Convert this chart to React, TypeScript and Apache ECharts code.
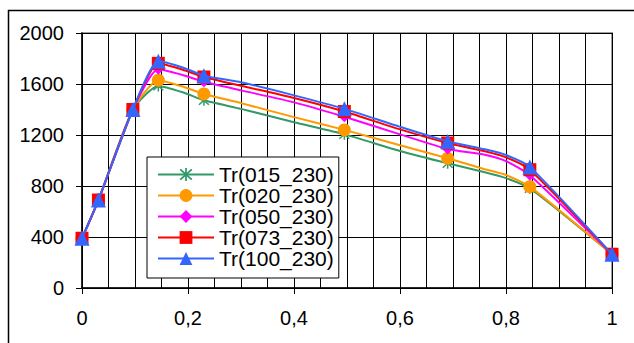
import React, { useEffect, useRef } from "react";
import * as echarts from "echarts";

// Positions along the x axis where each curve is sampled
const xValues = [0, 0.031, 0.096, 0.144, 0.19, 0.23, 0.3, 0.4, 0.495, 0.6, 0.69, 0.76, 0.8, 0.845, 1.0];
// Samples that carry a marker
const markerIdx = [0, 1, 2, 3, 5, 8, 10, 13, 14];

const seriesNames = ["Tr(015_230)", "Tr(020_230)", "Tr(050_230)", "Tr(073_230)", "Tr(100_230)"];

const tr015 = [390, 690, 1400, 1585, 1535, 1472, 1405, 1300, 1205, 1075, 978, 908, 862, 782, 265];
const tr020 = [390, 690, 1400, 1630, 1580, 1522, 1450, 1340, 1240, 1120, 1017, 932, 886, 795, 265];
const tr050 = [390, 690, 1400, 1715, 1670, 1617, 1550, 1456, 1343, 1205, 1090, 1045, 995, 885, 265];
const tr073 = [390, 690, 1400, 1762, 1712, 1655, 1586, 1490, 1384, 1244, 1137, 1072, 1025, 928, 265];
const tr100 = [390, 690, 1400, 1778, 1730, 1665, 1613, 1511, 1405, 1264, 1150, 1088, 1043, 950, 265];

const yTicks = { min: 0, max: 2000, step: 400 };
const xTicks = { min: 0, max: 1, step: 0.2, minorSplit: 4 };

const seriesValues = [tr015, tr020, tr050, tr073, tr100];
const colors = ["#339966", "#FF9900", "#FF00FF", "#FF0000", "#3366FF"];

const asterisk =
  "path://M44 0H56V100H44Z" +
  "M5.76 14.24L14.24 5.76L94.24 85.76L85.76 94.24Z" +
  "M85.76 5.76L94.24 14.24L14.24 94.24L5.76 85.76Z";
const symbols = [asterisk, "circle", "diamond", "rect", "triangle"];
const symbolSizes = [11, 13, 11, 13, 15];

const FONT = "'Liberation Sans', Arial, sans-serif";

export default function App() {
  const ref = useRef<HTMLDivElement | null>(null);

  useEffect(() => {
    if (!ref.current) return;
    const chart = echarts.init(ref.current, undefined, { renderer: "svg" });

    const series = seriesValues.map((vals, s) => ({
      name: seriesNames[s],
      type: "line",
      smooth: 0.2,
      symbol: symbols[s],
      symbolSize: symbolSizes[s],
      showSymbol: true,
      showAllSymbol: true,
      z: 3 + s,
      lineStyle: { color: colors[s], width: 2 },
      itemStyle: { color: colors[s], borderWidth: 0 },
      data: vals.map((v, i) =>
        markerIdx.includes(i)
          ? { value: [xValues[i], v] }
          : { value: [xValues[i], v], symbol: "none" }
      ),
    }));

    chart.setOption({
      animation: false,
      textStyle: { fontFamily: FONT },
      grid: {
        left: 82,
        top: 33,
        right: 22,
        bottom: 55,
        show: true,
        borderColor: "#a0a0a0",
        borderWidth: 2,
        backgroundColor: "#ffffff",
      },
      graphic: [
        {
          type: "rect",
          shape: { x: 8.5, y: 10.5, width: 700, height: 400 },
          style: { fill: "none", stroke: "#000000", lineWidth: 1.5 },
          silent: true,
          z: 0,
        },
      ],
      legend: {
        orient: "vertical",
        left: 147,
        top: 157,
        backgroundColor: "#ffffff",
        borderColor: "#000000",
        borderWidth: 1,
        padding: [7, 5, 9, 10],
        itemWidth: 56,
        itemHeight: 16,
        itemGap: 0,
        selectedMode: false,
        textStyle: {
          fontFamily: FONT,
          fontSize: 21,
          lineHeight: 21,
          color: "#000000",
        },
        data: seriesNames,
      },
      xAxis: {
        type: "value",
        min: xTicks.min,
        max: xTicks.max,
        interval: xTicks.step,
        axisLine: { show: true, onZero: false, lineStyle: { color: "#000000", width: 1.5 } },
        axisTick: { show: true, length: 6, lineStyle: { color: "#000000" } },
        axisLabel: {
          margin: 20,
          fontSize: 20,
          color: "#000000",
          fontFamily: FONT,
          formatter: (v: number) => String(Number(v.toFixed(1))).replace(".", ","),
        },
        splitLine: { show: true, lineStyle: { color: "#000000", width: 1 } },
        minorTick: { show: false, splitNumber: xTicks.minorSplit },
        minorSplitLine: { show: true, lineStyle: { color: "#000000", width: 1 } },
      },
      yAxis: {
        type: "value",
        min: yTicks.min,
        max: yTicks.max,
        interval: yTicks.step,
        axisLine: { show: true, lineStyle: { color: "#000000", width: 1.5 } },
        axisTick: { show: true, length: 6, lineStyle: { color: "#000000" } },
        axisLabel: {
          margin: 18,
          fontSize: 20,
          color: "#000000",
          fontFamily: FONT,
          formatter: (v: number) => String(v),
        },
        splitLine: { show: true, lineStyle: { color: "#000000", width: 1 } },
      },
      series,
    });

    return () => chart.dispose();
  }, []);

  return (
    <div
      ref={ref}
      style={{ position: "fixed", left: 0, top: 0, width: 634, height: 343, background: "#ffffff" }}
    />
  );
}
